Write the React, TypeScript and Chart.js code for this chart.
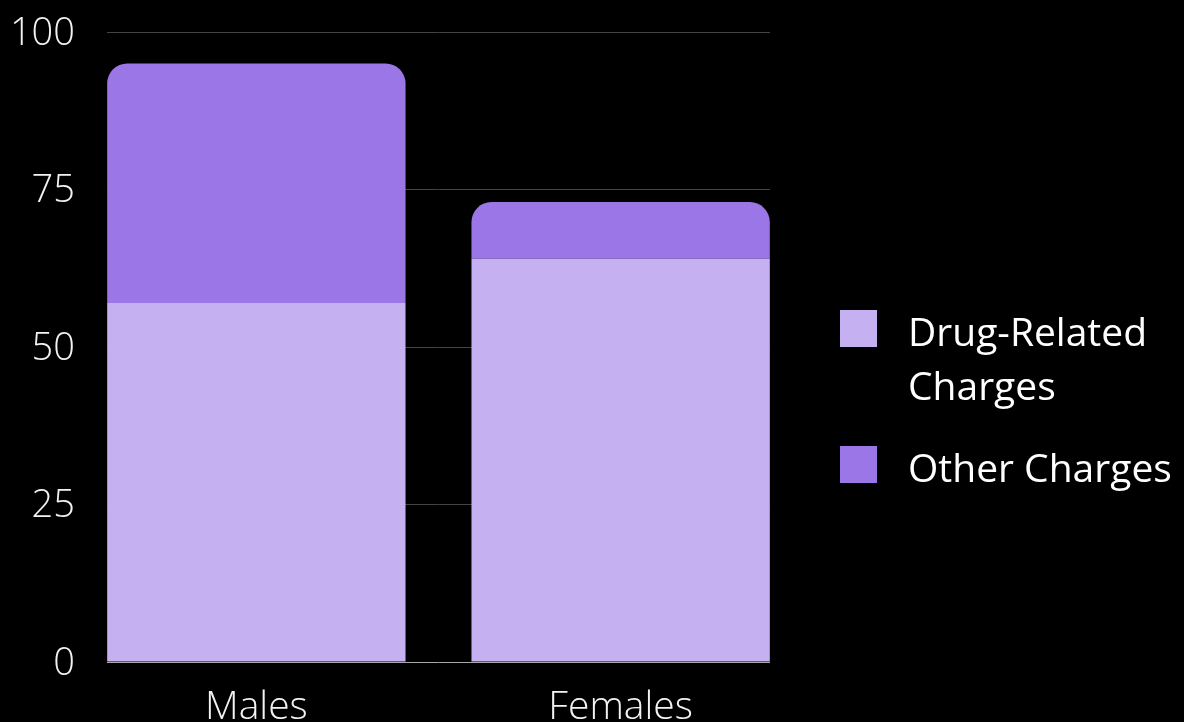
import React, { useEffect, useRef } from "react";
import { Chart, registerables } from "chart.js";

Chart.register(...registerables);

const categories = ["Males", "Females"];
const drugRelated = [57, 64];
const otherCharges = [38, 9];
const yTicks = [0, 25, 50, 75, 100];
const seriesNames = ["Drug-Related Charges", "Other Charges"];
const legendLines = [["Drug-Related", "Charges"], ["Other Charges"]];

const COLOR_DRUG = "#C5B0F2";
const COLOR_OTHER = "#9B76E6";
const FONT = "'Open Sans', 'Noto Sans', sans-serif";

export default function App() {
  const ref = useRef<HTMLCanvasElement | null>(null);

  useEffect(() => {
    document.body.style.margin = "0";
    document.body.style.background = "#000";
    const canvas = ref.current;
    if (!canvas) return;
    const chart = new Chart(canvas, {
      type: "bar",
      data: {
        datasets: [
          {
            label: seriesNames[0],
            data: drugRelated.map((v, i) => ({ x: i, y: v })),
            backgroundColor: COLOR_DRUG,
            borderWidth: 0,
            borderRadius: 0,
            barPercentage: 0.819,
            categoryPercentage: 1,
          },
          {
            label: seriesNames[1],
            data: otherCharges.map((v, i) => ({ x: i, y: v })),
            backgroundColor: COLOR_OTHER,
            borderWidth: 0,
            borderRadius: { topLeft: 20, topRight: 20, bottomLeft: 0, bottomRight: 0 },
            borderSkipped: false,
            barPercentage: 0.819,
            categoryPercentage: 1,
          },
        ],
      },
      options: {
        responsive: false,
        animation: false,
        devicePixelRatio: 1,
        layout: { padding: { top: 32, right: 414, bottom: 0, left: 0 } },
        plugins: {
          legend: { display: false },
          tooltip: { enabled: false },
        },
        scales: {
          x: {
            type: "linear",
            stacked: true,
            offset: false,
            min: -0.41,
            max: 1.41,
            afterBuildTicks: (scale: any) => {
              scale.ticks = categories.map((_, i) => ({ value: i }));
            },
            afterFit: (scale: any) => {
              scale.height = 60;
              scale.paddingLeft = 0;
              scale.paddingRight = 0;
            },
            grid: { display: false, drawTicks: false, offset: false },
            border: { display: false },
            ticks: {
              autoSkip: false,
              maxRotation: 0,
              padding: 22,
              color: "#f2f2f2",
              font: { family: FONT, size: 39, weight: "300" as any },
              callback: (v: any) => categories[Math.round(Number(v))] ?? "",
            },
          },
          y: {
            stacked: true,
            min: 0,
            max: 100,
            afterBuildTicks: (scale: any) => {
              scale.ticks = yTicks.map((v) => ({ value: v }));
            },
            afterFit: (scale: any) => {
              scale.width = 107;
              scale.paddingTop = 0;
              scale.paddingBottom = 0;
            },
            grid: {
              drawTicks: false,
              color: (ctx: any) => (ctx.tick && ctx.tick.value === 0 ? "#a8a8a8" : "#444444"),
              lineWidth: 1,
            },
            border: { display: false },
            ticks: {
              padding: 32,
              labelOffset: 2,
              color: "#f2f2f2",
              font: { family: FONT, size: 38, weight: "300" as any },
            },
          },
        },
      },
    });
    return () => chart.destroy();
  }, []);

  const colors = [COLOR_DRUG, COLOR_OTHER];
  const boxTops = [310, 446];
  const textTops = [304, 440];

  return (
    <div style={{ position: "fixed", left: 0, top: 0, width: 1184, height: 722, background: "#000", overflow: "hidden" }}>
      <canvas ref={ref} width={1184} height={722} style={{ position: "absolute", left: 0, top: 0, width: 1184, height: 722 }} />
      {legendLines.map((lines, i) => (
        <React.Fragment key={i}>
          <div
            style={{
              position: "absolute",
              left: 840,
              top: boxTops[i],
              width: 37,
              height: 37,
              background: colors[i],
            }}
          />
          <div
            style={{
              position: "absolute",
              left: 908,
              top: textTops[i],
              fontFamily: FONT,
              fontSize: 39,
              lineHeight: "54px",
              color: "#ffffff",
              whiteSpace: "nowrap",
            }}
          >
            {lines.map((l, j) => (
              <div key={j}>{l}</div>
            ))}
          </div>
        </React.Fragment>
      ))}
    </div>
  );
}
